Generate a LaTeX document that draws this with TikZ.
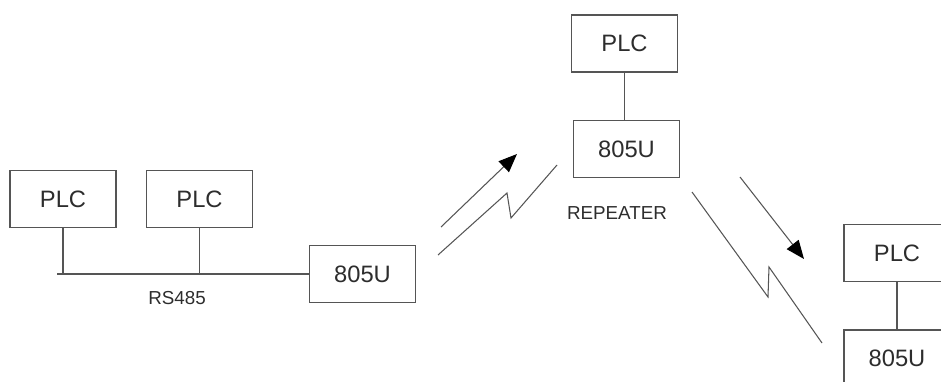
\documentclass[tikz,border=0pt]{standalone}
\usepackage{fontspec}
\setmainfont{Liberation Sans}
\usepackage{tikz}
\usetikzlibrary{arrows.meta, positioning, calc}
\definecolor{mygray}{RGB}{85,85,85}
\definecolor{mytext}{RGB}{45,45,45}
\tikzset{
  block/.style={rectangle, draw=mygray, fill=white, text=mytext,
    minimum width=2.12cm, minimum height=1.14cm, inner sep=0pt,
    font=\fontsize{13.5}{16}\selectfont, line width=0.6pt},
  tag/.style={text=mytext, inner sep=0pt, font=\fontsize{10.7}{13}\selectfont},
  radio/.style={-{Triangle[length=10.5pt, width=8.5pt, color=black]}, color=mygray, line width=0.6pt},
  line/.style={color=mygray, line width=0.6pt}
}
\begin{document}
\begin{tikzpicture}[x=0.02cm, y=-0.02cm]
  \useasboundingbox (0,0) rectangle (941,382);
  \clip (0,0) rectangle (941,382);

  % RS485 side
  \node[block] (plcA) at (63,199) {PLC};
  \node[block] (plcB) at (199.5,199) {PLC};
  \node[block] (busU) at (362.5,274) {805U};
  \coordinate (busL) at (57,274);
  \draw[line] (busL) -- (busU.west);
  \draw[line] (plcA.south) -- (plcA.south |- busL);
  \draw[line] (plcB.south) -- (plcB.south |- busL);
  \node[tag] (rs) at (177,298) {RS485};

  % Repeater
  \node[block] (rptPLC) at (624.5,43.5) {PLC};
  \node[block] (rptU) at (626.5,149) {805U};
  \draw[line] (rptPLC.south) -- (rptPLC.south |- rptU.north);
  \node[tag] (rpt) at (617,213) {REPEATER};

  % Remote station
  \node[block] (endPLC) at (897,253) {PLC};
  \node[block] (endU) at (897,358.5) {805U};
  \draw[line] (endPLC.south) -- (endU.north);

  % Radio links
  \coordinate (linkA1) at (441,227);
  \coordinate (linkA2) at (517,154);
  \draw[radio] (linkA1) -- (linkA2);
  \draw[line] (438,255) -- (507,193) -- (511,218) -- (557,165);

  \coordinate (linkB1) at (740,177);
  \coordinate (linkB2) at (804,259);
  \draw[radio] (linkB1) -- (linkB2);
  \draw[line] (692,192) -- (768,297) -- (769,267) -- (822,343);
\end{tikzpicture}
\end{document}
